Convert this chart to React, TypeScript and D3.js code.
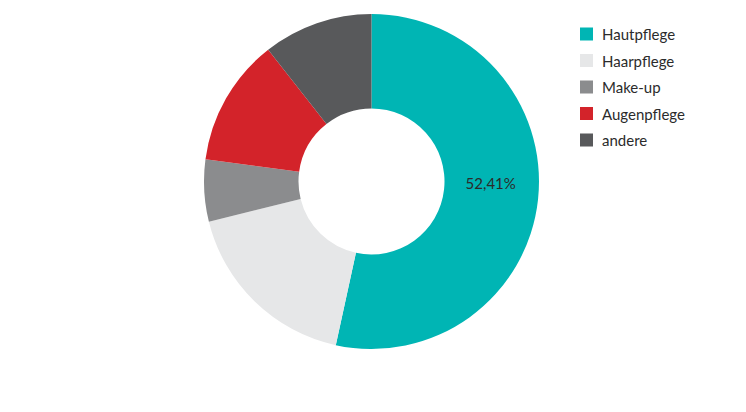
import React from "react";
import * as d3 from "d3";

const categories = ["Hautpflege", "Haarpflege", "Make-up", "Augenpflege", "andere"];
const values = [53.42, 17.72, 5.97, 12.31, 10.58];
const colors = ["#00b5b4", "#e6e7e8", "#8b8c8e", "#d3232a", "#58595b"];
const labelText = ["52,41%", "", "", "", ""];

const W = 746;
const H = 412;
const cx = 371.5;
const cy = 181.5;
const outerR = 167.5;
const innerR = 73;

export default function App() {
  const data = categories.map((c, i) => ({ name: c, value: values[i], color: colors[i], label: labelText[i] }));
  const pie = d3.pie<any>().value((d: any) => d.value).sort(null);
  const arcs = pie(data);
  const arc = d3.arc<any>().innerRadius(innerR).outerRadius(outerR);
  const legendY = d3.scalePoint<string>().domain(categories).range([34, 140]);
  const font = "Lato, 'Open Sans', sans-serif";
  const midR = (innerR + outerR) / 2;
  const labelAngle = Math.PI / 2 + 0.015;
  return (
    <div style={{ position: "absolute", left: 0, top: 0 }}>
      <svg width={W} height={H} style={{ display: "block", background: "#fff" }}>
        <g transform={`translate(${cx},${cy})`}>
          {arcs.map((a, i) => (
            <path key={i} d={arc(a) as string} fill={a.data.color} />
          ))}
          {arcs.map((a, i) => {
            if (!a.data.label) return null;
            const x = Math.sin(labelAngle) * midR - 1;
            const y = -Math.cos(labelAngle) * midR;
            return (
              <text key={"l" + i} x={x} y={y} textAnchor="middle" dominantBaseline="central"
                fontFamily={font} fontSize={15} fill="#2b2b2b">
                {a.data.label}
              </text>
            );
          })}
        </g>
        <g>
          {categories.map((c, i) => (
            <g key={c} transform={`translate(580,${legendY(c)})`}>
              <rect x={0} y={-6.5} width={13} height={13} fill={colors[i]} />
              <text x={22} y={0} dominantBaseline="central" fontFamily={font} fontSize={15} fill="#2b2b2b">
                {c}
              </text>
            </g>
          ))}
        </g>
      </svg>
    </div>
  );
}
